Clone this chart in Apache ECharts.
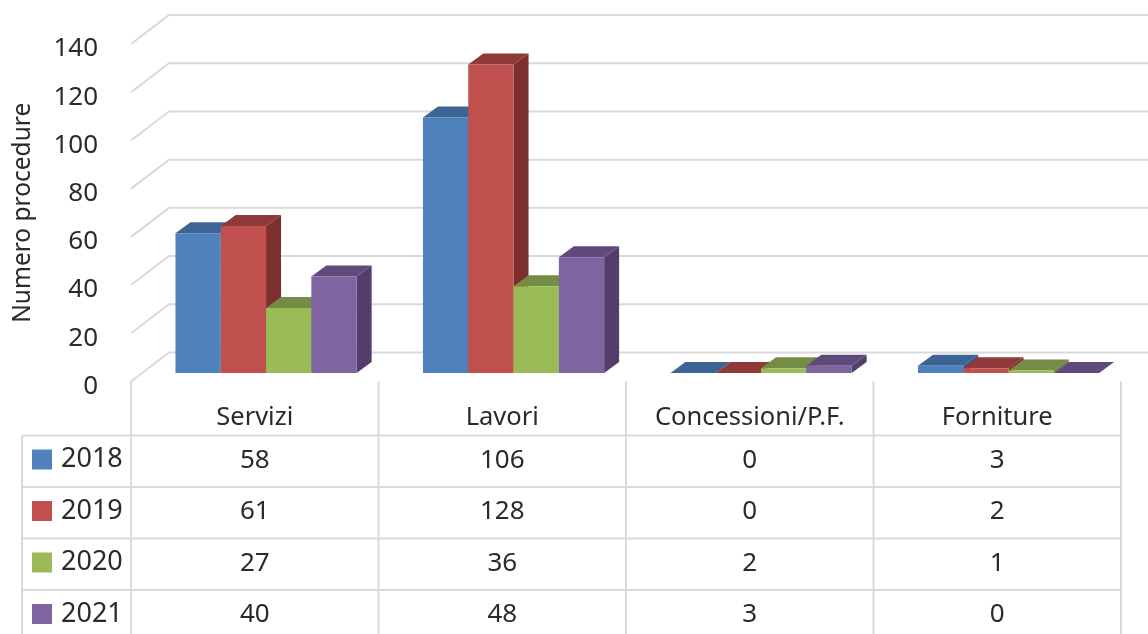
<!DOCTYPE html>
<html>
<head>
<meta charset="utf-8">
<title>Numero procedure</title>
<script src="https://cdn.jsdelivr.net/npm/echarts@6/dist/echarts.min.js"></script>
<style>
  html, body { margin: 0; padding: 0; background: #fff; }
  #chart { width: 1148px; height: 634px; }
</style>
</head>
<body>
<div id="chart"></div>
<script>
var categories = ['Servizi', 'Lavori', 'Concessioni/P.F.', 'Forniture'];
var years = ['2018', '2019', '2020', '2021'];
var values2018 = [58, 106, 0, 3];
var values2019 = [61, 128, 0, 2];
var values2020 = [27, 36, 2, 1];
var values2021 = [40, 48, 3, 0];
var yTicks = [0, 20, 40, 60, 80, 100, 120, 140];

var allValues = [values2018, values2019, values2020, values2021];
var frontColors = ['#4f81bd', '#c0504d', '#9bbb59', '#8064a2'];
var topColors = ['#3c6494', '#8f3a38', '#748c43', '#604a7b'];
var sideColors = ['#345680', '#7d2f2e', '#65793a', '#533e6b'];

var FONT = '"Noto Sans", sans-serif';
var TEXT = '#2a2a26';
var LINE = '#d9d9d9';
var ROW_Y = [435.5, 487, 538.5, 590];
var TABLE_LEFT = 22;
var PAGE_BOTTOM = 634;

function line(x1, y1, x2, y2) {
  return {
    type: 'line',
    shape: { x1: x1, y1: y1, x2: x2, y2: y2 },
    style: { stroke: LINE, lineWidth: 2 }
  };
}

function label(x, y, text, align, size) {
  return {
    type: 'text',
    style: {
      x: x, y: y, text: text, fill: TEXT,
      fontSize: size || 26, fontFamily: FONT,
      align: align || 'center', verticalAlign: 'middle'
    }
  };
}

// back wall and side wall gridlines
function renderWall(params, api) {
  var band = api.size([1, 0])[0];
  var p = api.coord([0, api.value(0)]);
  var x0 = p[0] - band / 2;
  return {
    type: 'polyline',
    shape: { points: [[x0, p[1]], [x0 + 38, p[1] - 29], [x0 + band * 4 + 38, p[1] - 29]] },
    style: { stroke: LINE, lineWidth: 2, fill: null }
  };
}

// fake 3d column: side, top, then front
function renderBar(params, api) {
  var s = params.seriesIndex - 1;
  var base = api.coord([api.value(0), 0]);
  var top = api.coord([api.value(0), api.value(1)]);
  var band = api.size([1, 0])[0];
  var w = band * 0.183;
  var dx = 15, dy = 11;
  var x1 = base[0] + 11.3 + (s - 2) * w;
  var x2 = x1 + w;
  var yb = base[1] - 8.5;
  var yt = top[1] - 8.5;
  return {
    type: 'group',
    children: [
      {
        type: 'polygon',
        shape: { points: [[x2, yb], [x2 + dx, yb - dy], [x2 + dx, yt - dy], [x2, yt]] },
        style: { fill: sideColors[s] }
      },
      {
        type: 'polygon',
        shape: { points: [[x1, yt], [x1 + dx, yt - dy], [x2 + dx, yt - dy], [x2, yt]] },
        style: { fill: topColors[s] }
      },
      {
        type: 'rect',
        shape: { x: x1, y: yt, width: w, height: yb - yt },
        style: { fill: frontColors[s] }
      }
    ]
  };
}

// table borders under the plot
function renderFrame(params, api) {
  var band = api.size([1, 0])[0];
  var left = api.coord([0, 0])[0] - band / 2;
  var floor = api.coord([0, 0])[1];
  var right = left + band * categories.length;
  var children = [];
  ROW_Y.forEach(function (y) {
    children.push(line(TABLE_LEFT, y, right, y));
  });
  children.push(line(TABLE_LEFT, ROW_Y[0], TABLE_LEFT, PAGE_BOTTOM));
  for (var i = 0; i <= categories.length; i++) {
    children.push(line(left + band * i, floor, left + band * i, PAGE_BOTTOM));
  }
  return { type: 'group', children: children };
}

// one row of the data table: swatch, year, values
function renderRow(params, api) {
  var r = api.value(0);
  var rowMid = ROW_Y[r] + 24;
  var children = [
    {
      type: 'rect',
      shape: { x: 32, y: rowMid - 10, width: 20, height: 20 },
      style: { fill: frontColors[r] }
    },
    label(61, rowMid, years[r], 'left', 27)
  ];
  allValues[r].forEach(function (v, c) {
    var x = api.coord([c, 0])[0];
    children.push(label(x, rowMid + 1, String(v)));
  });
  return { type: 'group', children: children };
}

var series = [{
  type: 'custom',
  name: 'wall',
  renderItem: renderWall,
  data: yTicks.map(function (t) { return [t]; }),
  clip: false,
  silent: true
}];

allValues.forEach(function (vals, s) {
  series.push({
    type: 'custom',
    name: years[s],
    renderItem: renderBar,
    encode: { x: 0, y: 1 },
    data: vals.map(function (v, c) { return [c, v]; }),
    clip: false
  });
});

series.push({
  type: 'custom',
  name: 'frame',
  renderItem: renderFrame,
  data: [[0]],
  clip: false,
  silent: true
});
series.push({
  type: 'custom',
  name: 'table',
  renderItem: renderRow,
  data: years.map(function (y, r) { return [r]; }),
  clip: false,
  silent: true
});

var chart = echarts.init(document.getElementById('chart'));
chart.setOption({
  animation: false,
  backgroundColor: '#fff',
  grid: { left: 131, right: 27, top: 44, bottom: 252.5, outerBoundsMode: 'none' },
  xAxis: {
    type: 'category',
    data: categories,
    axisLine: { show: false },
    axisTick: { show: false },
    axisLabel: {
      color: TEXT, fontSize: 25.5, fontFamily: FONT,
      margin: 23, interval: 0
    }
  },
  yAxis: {
    type: 'value',
    min: 0,
    max: 140,
    interval: 20,
    name: 'Numero procedure',
    nameLocation: 'middle',
    nameGap: 95,
    nameTextStyle: { color: TEXT, fontSize: 24.5, fontFamily: FONT },
    axisLine: { show: false },
    axisTick: { show: false },
    splitLine: { show: false },
    axisLabel: {
      color: TEXT, fontSize: 26, fontFamily: FONT,
      margin: 33, verticalAlign: 'top', lineHeight: 10
    }
  },
  series: series
});
</script>
</body>
</html>
